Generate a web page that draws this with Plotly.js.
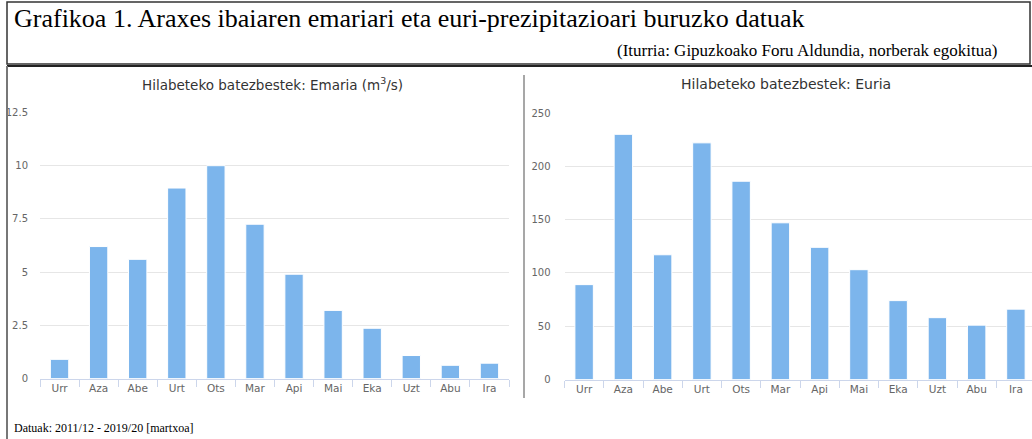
<!DOCTYPE html>
<html>
<head>
<meta charset="utf-8">
<script src="https://cdn.plot.ly/plotly-3.0.1.min.js"></script>
<style>
html,body{margin:0;padding:0;background:#fff;}
#chart{width:1032px;height:439px;}
</style>
</head>
<body>
<div id="chart"></div>
<script>
// ---- Data ----
const months = ["Urr","Aza","Abe","Urt","Ots","Mar","Api","Mai","Eka","Uzt","Abu","Ira"];
const flow = [0.9, 6.2, 5.6, 8.95, 10.0, 7.25, 4.9, 3.2, 2.36, 1.08, 0.62, 0.72];   // m3/s
const rain = [89, 230, 117, 222, 186, 147, 124, 103, 74, 58, 51, 66];                  // mm
const flowTicks = [0, 2.5, 5, 7.5, 10, 12.5];
const rainTicks = [0, 50, 100, 150, 200, 250];

const mainTitle = "Grafikoa 1. Araxes ibaiaren emariari eta euri-prezipitazioari buruzko datuak";
const sourceText = "(Iturria: Gipuzkoako Foru Aldundia, norberak egokitua)";
const leftTitle = "Hilabeteko batezbestek: Emaria (m<sup>3</sup>/s)";
const rightTitle = "Hilabeteko batezbestek: Euria";
const footText = "Datuak: 2011/12 - 2019/20 [martxoa]";

// ---- Layout helpers ----
const W = 1032, H = 439;
const px = x => x / W;
const py = y => 1 - y / H;

const barColor = "#7cb5ec";
const sans = "DejaVu Sans, Verdana, sans-serif";
const serif = "Liberation Serif, Times New Roman, serif";

const traces = [
  {type:"bar", x: months, y: flow, xaxis:"x", yaxis:"y",
   marker:{color: barColor, line:{color:"#ffffff", width:1}}, hoverinfo:"x+y"},
  {type:"bar", x: months, y: rain, xaxis:"x2", yaxis:"y2",
   marker:{color: barColor, line:{color:"#ffffff", width:1}}, hoverinfo:"x+y"}
];

const xCommon = {
  type:"category", showline:true, linecolor:"#ccd6eb", linewidth:1,
  ticks:"outside", tickson:"boundaries", ticklen:7, tickcolor:"#ccd6eb", tickwidth:1,
  showgrid:false, zeroline:false,
  tickfont:{family:sans, size:10.5, color:"#666666"}, fixedrange:true
};
const yCommon = {
  showgrid:true, gridcolor:"#e6e6e6", gridwidth:1, zeroline:false, showline:false,
  ticks:"outside", ticklen:11, tickcolor:"rgba(0,0,0,0)",
  tickfont:{family:sans, size:10, color:"#666666"}, fixedrange:true
};

const layout = {
  width: W, height: H,
  margin:{l:0, r:0, t:0, b:0},
  paper_bgcolor:"#ffffff", plot_bgcolor:"#ffffff",
  showlegend:false,
  bargap:0.53,
  xaxis: Object.assign({}, xCommon, {domain:[px(40), px(509)], anchor:"y", range:[-0.5, 11.5]}),
  yaxis: Object.assign({}, yCommon, {domain:[py(378.5), py(112.5)], anchor:"x", range:[0, 12.5],
          ticklen:9, tickvals: flowTicks, ticktext: flowTicks.map(String)}),
  xaxis2: Object.assign({}, xCommon, {domain:[px(564.5), 1], anchor:"y2", range:[-0.5, 11.41]}),
  yaxis2: Object.assign({}, yCommon, {domain:[py(379.5), py(113)], anchor:"x2", range:[0, 250],
          tickvals: rainTicks, ticktext: rainTicks.map(String)}),
  shapes:[
    // title box
    {type:"rect", xref:"paper", yref:"paper", x0:px(7), x1:px(1030), y0:py(64), y1:py(2),
     line:{color:"#333333", width:1.5}},
    {type:"line", xref:"paper", yref:"paper", x0:px(7), x1:px(1032), y0:py(66), y1:py(66),
     line:{color:"#222222", width:2}},
    // left border
    {type:"line", xref:"paper", yref:"paper", x0:px(7), x1:px(7), y0:py(66), y1:0,
     line:{color:"#777777", width:2}},
    // separator between charts
    {type:"line", xref:"paper", yref:"paper", x0:px(524), x1:px(524), y0:py(75), y1:py(398),
     line:{color:"#8a8a8a", width:1.5}}
  ],
  annotations:[
    {xref:"paper", yref:"paper", x:px(12), y:py(19), xanchor:"left", yanchor:"middle",
     text: mainTitle, showarrow:false, font:{family:serif, size:26, color:"#000000"}},
    {xref:"paper", yref:"paper", x:px(1000), y:py(50), xanchor:"right", yanchor:"middle",
     text: sourceText, showarrow:false, font:{family:serif, size:17, color:"#000000"}},
    {xref:"paper", yref:"paper", x:px(272), y:py(84), xanchor:"center", yanchor:"middle",
     text: leftTitle, showarrow:false, font:{family:sans, size:13.5, color:"#333333"}},
    {xref:"paper", yref:"paper", x:px(786), y:py(84), xanchor:"center", yanchor:"middle",
     text: rightTitle, showarrow:false, font:{family:sans, size:14, color:"#333333"}},
    {xref:"paper", yref:"paper", x:px(12), y:py(428), xanchor:"left", yanchor:"middle",
     text: footText, showarrow:false, font:{family:serif, size:12, color:"#000000"}}
  ]
};

Plotly.newPlot("chart", traces, layout, {displayModeBar:false, staticPlot:true});
</script>
</body>
</html>
